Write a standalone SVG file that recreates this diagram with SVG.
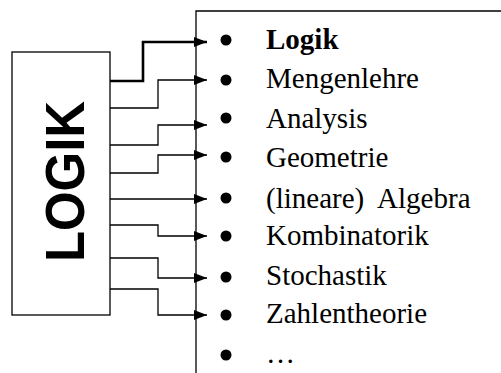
<svg xmlns="http://www.w3.org/2000/svg" width="501" height="373" viewBox="0 0 501 373">
<defs>
<marker id="ah" markerUnits="userSpaceOnUse" markerWidth="14" markerHeight="12" refX="13" refY="6" orient="auto">
<polygon points="0,1 13,6 0,11" fill="#000"/>
</marker>
<style>
.box{fill:#fff;stroke:#000;stroke-width:1.3}
.c{fill:none;stroke:#000;stroke-width:1.3;marker-end:url(#ah)}
.thick{stroke-width:2.6}
.t{font-family:"Liberation Serif","Times New Roman",serif;font-size:29px;fill:#000}
.b{fill:#000}
</style>
</defs>
<rect width="501" height="373" fill="#fff"/>
<g id="logik-box">
<rect class="box" x="12" y="52" width="98" height="263"/>
<text transform="translate(84,181.5) rotate(-90)" text-anchor="middle" font-family="Liberation Sans,Arial,sans-serif" font-weight="bold" font-size="55" textLength="161" lengthAdjust="spacingAndGlyphs">LOGIK</text>
</g>
<g id="list">
<path d="M196,373 V11 H501" fill="none" stroke="#000" stroke-width="1.3"/>
<g class="b">
<circle cx="226" cy="40" r="5.5"/>
<circle cx="226" cy="80" r="5.5"/>
<circle cx="226" cy="118" r="5.5"/>
<circle cx="226" cy="157" r="5.5"/>
<circle cx="226" cy="198" r="5.5"/>
<circle cx="226" cy="236" r="5.5"/>
<circle cx="226" cy="277" r="5.5"/>
<circle cx="226" cy="315" r="5.5"/>
<circle cx="226" cy="355" r="5.5"/>
</g>
<text class="t" x="266" y="49" font-weight="bold">Logik</text>
<text class="t" x="266" y="88">Mengenlehre</text>
<text class="t" x="266" y="128">Analysis</text>
<text class="t" x="266" y="167">Geometrie</text>
<text class="t" x="266" y="208" xml:space="preserve">(lineare)  Algebra</text>
<text class="t" x="266" y="245">Kombinatorik</text>
<text class="t" x="266" y="285">Stochastik</text>
<text class="t" x="266" y="323">Zahlentheorie</text>
<text class="t" x="266" y="363">…</text>
</g>
<g id="connectors">
<path class="c thick" d="M110,81 H143 V42 H207"/>
<path class="c" d="M110,108 H158 V80 H207"/>
<path class="c" d="M110,145 H158 V125 H207"/>
<path class="c" d="M110,173 H158 V155 H207"/>
<path class="c" d="M110,199 H207"/>
<path class="c" d="M110,225 H158 V236 H207"/>
<path class="c" d="M110,258 H158 V278 H207"/>
<path class="c" d="M110,289 H158 V315 H207"/>
</g>
</svg>
